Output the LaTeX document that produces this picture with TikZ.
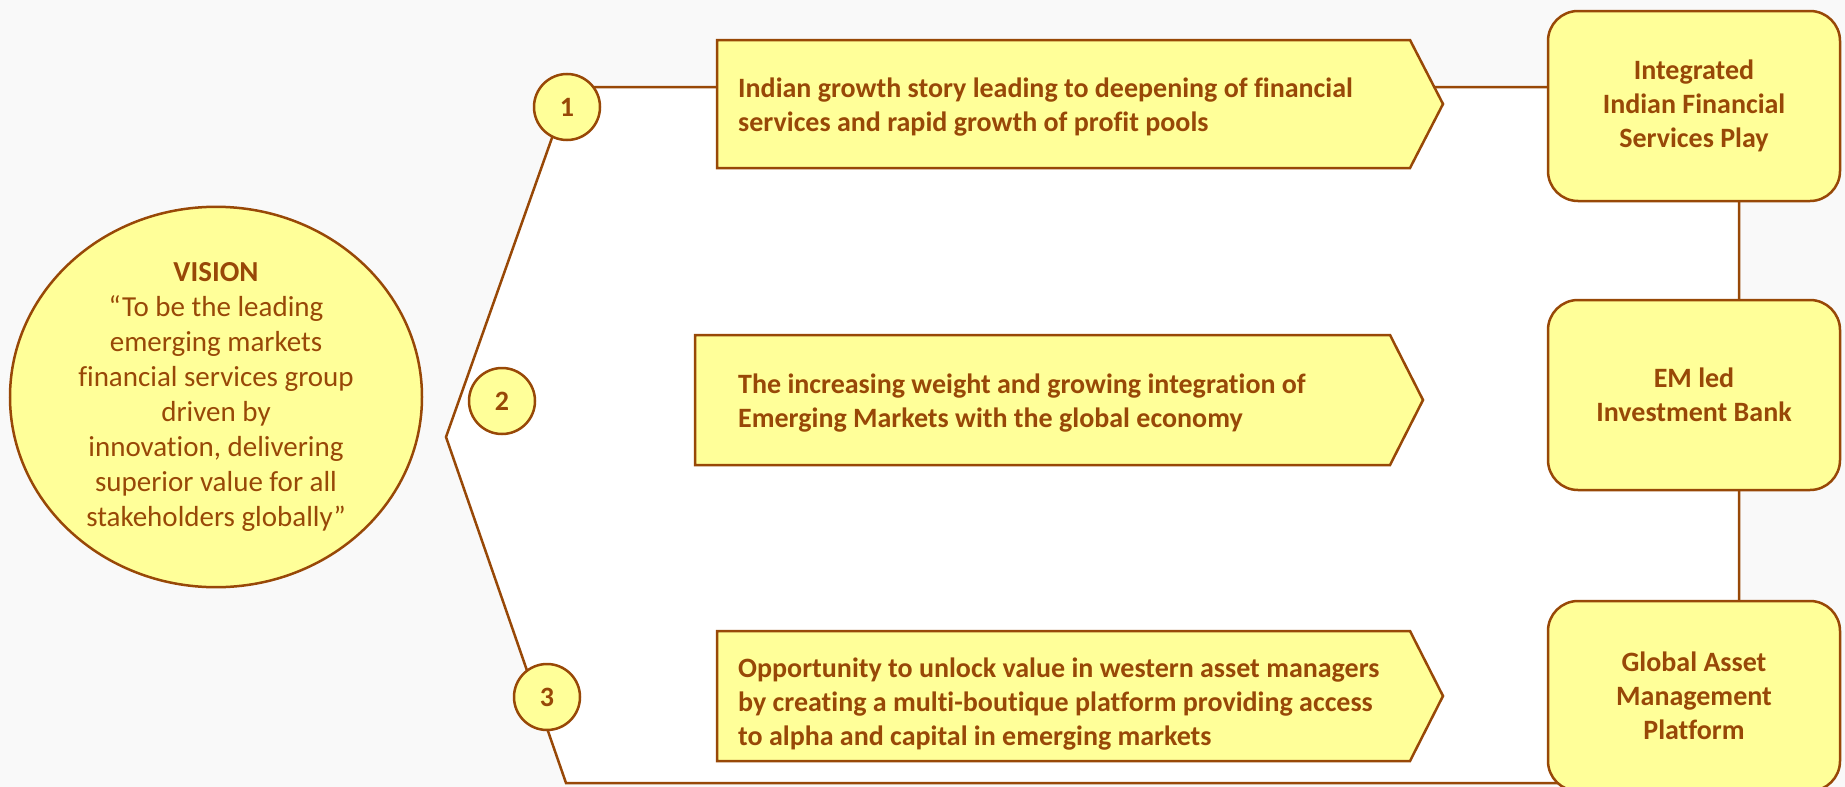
\documentclass[tikz,border=0pt]{standalone}
\usepackage{fontspec}
\setmainfont{Carlito}[Ligatures=NoCommon]
\usetikzlibrary{shapes.geometric}
\definecolor{rim}{HTML}{984807}
\definecolor{pale}{HTML}{FFFF99}
\definecolor{canvas}{HTML}{F9F9F9}
\begin{document}
\begin{tikzpicture}[x=1pt,y=-1pt,
  edge/.style={draw=rim, line width=2.5pt},
  bar/.style={draw=rim, fill=pale, line width=2.5pt, line join=miter},
  bartext/.style={anchor=west, align=left, text=rim, inner sep=0pt,
    font=\bfseries\fontsize{28}{34}\selectfont},
  goal/.style={draw=rim, fill=pale, line width=2.5pt, rounded corners=30pt,
    minimum width=292pt, minimum height=190pt, align=center, text=rim,
    font=\bfseries\fontsize{28}{34}\selectfont},
  badge/.style={circle, draw=rim, fill=pale, line width=2.5pt,
    minimum size=66pt, inner sep=0pt, text=rim,
    font=\bfseries\fontsize{28}{30}\selectfont},
  vision/.style={ellipse, draw=rim, fill=pale, line width=2.5pt,
    minimum width=412pt, minimum height=380pt, inner sep=0pt, align=center,
    text=rim, font=\fontsize{29}{35}\selectfont},
]
\fill[canvas] (0,0) rectangle (1845,787);
\useasboundingbox (0,0) rectangle (1845,787);

% frame linking the three drivers to the business lines
\coordinate (ftop) at (570,87);
\coordinate (fne) at (1739,87);
\coordinate (fse) at (1739,783);
\coordinate (fbot) at (566,783);
\coordinate (fapex) at (446,437);
\draw[edge, fill=white, line join=miter] (ftop) -- (fne) -- (fse) -- (fbot) -- (fapex) -- cycle;

% vision statement
\node[vision] (vis) at (216,397) {{\bfseries VISION}\\“To be the leading\\emerging markets\\financial services group\\driven by\\innovation, delivering\\superior value for all\\stakeholders globally”};

% driver arrows
\path[bar] (717,40) -- (1410,40) -- (1443,104) -- (1410,168) -- (717,168) -- cycle;
\node[bartext] (d1) at (738,107) {Indian growth story leading to deepening of financial\\services and rapid growth of profit pools};

\path[bar] (695,335) -- (1390,335) -- (1423,400) -- (1390,465) -- (695,465) -- cycle;
\node[bartext] (d2) at (738,403) {The increasing weight and growing integration of\\Emerging Markets with the global economy};

\path[bar] (717,631) -- (1410,631) -- (1443,696) -- (1410,761) -- (717,761) -- cycle;
\node[bartext] (d3) at (738,704) {Opportunity to unlock value in western asset managers\\by creating a multi-boutique platform providing access\\to alpha and capital in emerging markets};

% numbered badges
\node[badge] (n1) at (567,107) {1};
\node[badge] (n2) at (502,401) {2};
\node[badge] (n3) at (547,697) {3};

% business lines
\node[goal] (g1) at (1694,106) {Integrated\\Indian Financial\\Services Play};
\node[goal] (g2) at (1694,395) {EM led\\Investment Bank};
\node[goal] (g3) at (1694,696) {Global Asset\\Management\\Platform};
\end{tikzpicture}
\end{document}
